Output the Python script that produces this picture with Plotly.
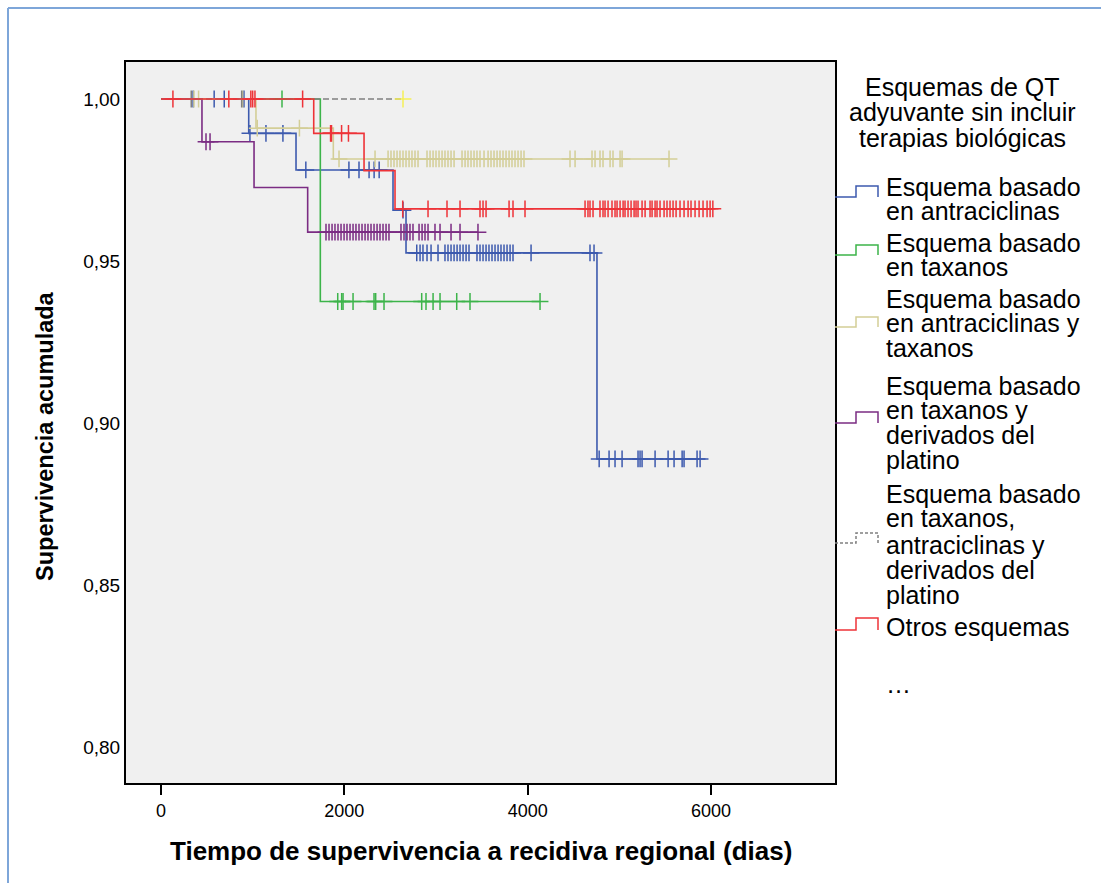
import numpy as np
import plotly.graph_objects as go

# ---------------- data (days, cumulative survival) ----------------
groups = ["Esquema basado en antraciclinas", "Esquema basado en taxanos",
          "Esquema basado en antraciclinas y taxanos",
          "Esquema basado en taxanos y derivados del platino",
          "Esquema basado en taxanos, antraciclinas y derivados del platino",
          "Otros esquemas", "..."]

blue_event_t = [957, 1473, 2531, 2673, 4756]
blue_event_s = [0.9894, 0.9781, 0.9657, 0.9525, 0.8889]
blue_cens = [350, 580, 690, 905, 970, 1145, 1330, 1580, 2050, 2160, 2270, 2325, 2380,
             2640, 2790, 2826, 2858, 2902, 2946, 3022, 3098, 3131, 3164, 3197, 3230,
             3262, 3295, 3328, 3360, 3447, 3480, 3513, 3546, 3578, 3611, 3644, 3677,
             3709, 3742, 3775, 3808, 3840, 4037, 4680, 4724, 4780, 4888, 4953, 5030,
             5204, 5226, 5248, 5390, 5532, 5597, 5685, 5706, 5848, 5881]

green_event_t = [1738]
green_event_s = [0.9375]
green_cens = [1320, 1928, 1971, 1986, 2095, 2324, 2342, 2433, 2844, 2891, 2968,
              3044, 3226, 3371, 4135]

tan_event_t = [1036, 1880]
tan_event_s = [0.9910, 0.9815]
tan_cens = [360, 410, 890, 1050, 1510, 1942, 2335, 2477, 2509, 2542, 2575, 2607,
            2640, 2673, 2706, 2738, 2771, 2804, 2902, 2935, 2968, 3000, 3033, 3066,
            3098, 3131, 3164, 3197, 3284, 3317, 3349, 3382, 3415, 3447, 3480, 3524,
            3568, 3600, 3633, 3666, 3698, 3731, 3764, 3797, 3829, 3862, 3895, 3928,
            3960, 4462, 4517, 4702, 4735, 4789, 4822, 4899, 4931, 5008, 5030, 5542]

purple_event_t = [447, 1015, 1600]
purple_event_s = [0.9868, 0.9727, 0.9589]
purple_cens = [491, 535, 1800, 1833, 1866, 1898, 1931, 1964, 1997, 2029, 2062, 2095,
               2127, 2160, 2193, 2226, 2258, 2291, 2324, 2357, 2389, 2422, 2455, 2487,
               2618, 2651, 2684, 2716, 2749, 2815, 2848, 2880, 2913, 2989, 3044, 3164,
               3262, 3458]

gray_event_t = []
gray_event_s = []
gray_cens = [330, 880]
gray_end = 2640

yellow_cens = [2640]

red_event_t = [1666, 2215, 2553]
red_event_s = [0.9894, 0.9779, 0.9661]
red_cens = [130, 740, 980, 1000, 1025, 1545, 1850, 1860, 1970, 2045, 2637, 2913, 3120,
            3262, 3480, 3513, 3546, 3797, 3840, 3971, 4626, 4658, 4680, 4713, 4789,
            4822, 4844, 4877, 4920, 4953, 4975, 5008, 5041, 5062, 5095, 5128, 5161,
            5182, 5204, 5248, 5281, 5335, 5357, 5390, 5411, 5444, 5488, 5520, 5553,
            5586, 5619, 5662, 5706, 5750, 5782, 5826, 5870, 5913, 5957, 5990, 6020]

x_tickvals = [0, 2000, 4000, 6000]
x_ticktext = ["0", "2000", "4000", "6000"]
y_tickvals = [0.80, 0.85, 0.90, 0.95, 1.00]
y_ticktext = ["0,80", "0,85", "0,90", "0,95", "1,00"]

legend_title = ["Esquemas de QT", "adyuvante sin incluir", "terapias biológicas"]
legend_lines = [
    ["Esquema basado", "en antraciclinas"],
    ["Esquema basado", "en taxanos"],
    ["Esquema basado", "en antraciclinas y", "taxanos"],
    ["Esquema basado", "en taxanos y", "derivados del", "platino"],
    ["Esquema basado", "en taxanos,", "antraciclinas y", "derivados del", "platino"],
    ["Otros esquemas"],
]

# ---------------- style ----------------
BLUE, GREEN, TAN, PURPLE, GRAY, RED, YELLOW = ("#3D5AAE", "#3CB44A", "#D3CE97",
                                               "#7B2C83", "#808080", "#EE3338", "#F5EF55")
FONT = "Arial, Liberation Sans, Helvetica, sans-serif"

W, H = 1101, 883
PX0, PX1, PY0, PY1 = 126, 835, 62, 783  # plot area in pixels


def px(x):
    return (x - PX0) / (PX1 - PX0)


def py(y):
    return (PY1 - y) / (PY1 - PY0)


fig = go.Figure()


def add_group(ev_t, ev_s, cens, color, dash="solid", end=None):
    ev_t = list(ev_t)
    ev_s = list(ev_s)
    last = max(cens) if end is None else end
    xs = [0] + ev_t + [last]
    ys = [1.0] + ev_s + [ev_s[-1] if ev_s else 1.0]
    fig.add_trace(go.Scatter(x=xs, y=ys, mode="lines", line_shape="hv",
                             line=dict(color=color, width=1.6, dash=dash),
                             showlegend=False, hoverinfo="skip"))
    t = np.array(ev_t, dtype=float)
    s = np.array([1.0] + ev_s)
    c = np.array(cens, dtype=float)
    cy = s[np.searchsorted(t, c, side="right")]
    fig.add_trace(go.Scatter(x=c, y=cy, mode="markers",
                             marker=dict(symbol="cross-thin", size=12,
                                         line=dict(color=color, width=1.5)),
                             showlegend=False, hoverinfo="skip"))


add_group(blue_event_t, blue_event_s, blue_cens, BLUE)
add_group(green_event_t, green_event_s, green_cens, GREEN)
add_group(tan_event_t, tan_event_s, tan_cens, TAN)
add_group(purple_event_t, purple_event_s, purple_cens, PURPLE)
add_group(gray_event_t, gray_event_s, gray_cens, GRAY, dash="6px,3px", end=gray_end)
fig.add_trace(go.Scatter(x=yellow_cens, y=[1.0] * len(yellow_cens), mode="markers",
                         marker=dict(symbol="cross-thin", size=12,
                                     line=dict(color=YELLOW, width=1.5)),
                         showlegend=False, hoverinfo="skip"))
add_group(red_event_t, red_event_s, red_cens, RED)

# ---------------- manual legend ----------------
shapes = []
annotations = []
LEG_SIZE = 25

title_y = [87, 112, 138]
for txt, yy in zip(legend_title, title_y):
    annotations.append(dict(x=px(962), y=py(yy), xref="paper", yref="paper",
                            text=txt, showarrow=False, xanchor="center", yanchor="middle",
                            font=dict(family=FONT, size=LEG_SIZE, color="black")))

entry_text_y = [[187, 211], [243, 267], [299, 323, 348], [386, 410, 435, 460],
                [494, 518, 545, 570, 595], [627]]
entry_sym = [(186, 197), (245, 255), (317, 327), (412, 423), (533, 543), (618, 630)]
entry_col = [BLUE, GREEN, TAN, PURPLE, GRAY, RED]
entry_dash = ["solid", "solid", "solid", "solid", "3px,2px", "solid"]

for lines, ys, (yh, yl), col, dsh in zip(legend_lines, entry_text_y, entry_sym,
                                          entry_col, entry_dash):
    for txt, yy in zip(lines, ys):
        annotations.append(dict(x=px(884), y=py(yy), xref="paper", yref="paper",
                                text=txt, showarrow=False, xanchor="left",
                                yanchor="middle",
                                font=dict(family=FONT, size=LEG_SIZE, color="black")))
    path = (f"M {px(835)},{py(yl)} L {px(856)},{py(yl)} L {px(856)},{py(yh)} "
            f"L {px(878)},{py(yh)} L {px(878)},{py(yl)}")
    shapes.append(dict(type="path", xref="paper", yref="paper", path=path,
                       line=dict(color=col, width=1.5, dash=dsh)))

annotations.append(dict(x=px(884), y=py(684), xref="paper", yref="paper",
                        text="…", showarrow=False, xanchor="left", yanchor="middle",
                        font=dict(family=FONT, size=LEG_SIZE, color="black")))

# axis titles
annotations.append(dict(x=px(481), y=py(851), xref="paper", yref="paper",
                        text="<b>Tiempo de supervivencia a recidiva regional (dias)</b>",
                        showarrow=False, xanchor="center", yanchor="middle",
                        font=dict(family=FONT, size=26, color="black")))
annotations.append(dict(x=px(45), y=py(436), xref="paper", yref="paper",
                        text="<b>Supervivencia acumulada</b>", textangle=-90,
                        showarrow=False, xanchor="center", yanchor="middle",
                        font=dict(family=FONT, size=23.5, color="black")))

# outer light-blue border (left and top)
shapes.append(dict(type="line", xref="paper", yref="paper",
                   x0=px(8), x1=px(1101), y0=py(8), y1=py(8),
                   line=dict(color="#7EA6D9", width=2)))
shapes.append(dict(type="line", xref="paper", yref="paper",
                   x0=px(8), x1=px(8), y0=py(8), y1=py(883),
                   line=dict(color="#7EA6D9", width=2)))

x_range = [-381.8, 7352.7]
y_range = [0.78889, 1.01142]

fig.update_layout(
    width=W, height=H, autosize=False,
    margin=dict(l=PX0, r=W - PX1, t=PY0, b=H - PY1, pad=0),
    paper_bgcolor="white", plot_bgcolor="#F0F0F0",
    shapes=shapes, annotations=annotations, showlegend=False,
    xaxis=dict(range=x_range, tickvals=x_tickvals, ticktext=x_ticktext,
               showgrid=False, zeroline=False, showline=True, mirror=True,
               linecolor="black", linewidth=2, ticks="outside", ticklen=10,
               tickwidth=1.5, tickcolor="black",
               tickfont=dict(family=FONT, size=18, color="black")),
    yaxis=dict(range=y_range, tickvals=y_tickvals, ticktext=y_ticktext,
               showgrid=False, zeroline=False, showline=True, mirror=True,
               linecolor="black", linewidth=2, ticks="",
               tickfont=dict(family=FONT, size=19, color="black")),
)

fig.write_html("out.html")
